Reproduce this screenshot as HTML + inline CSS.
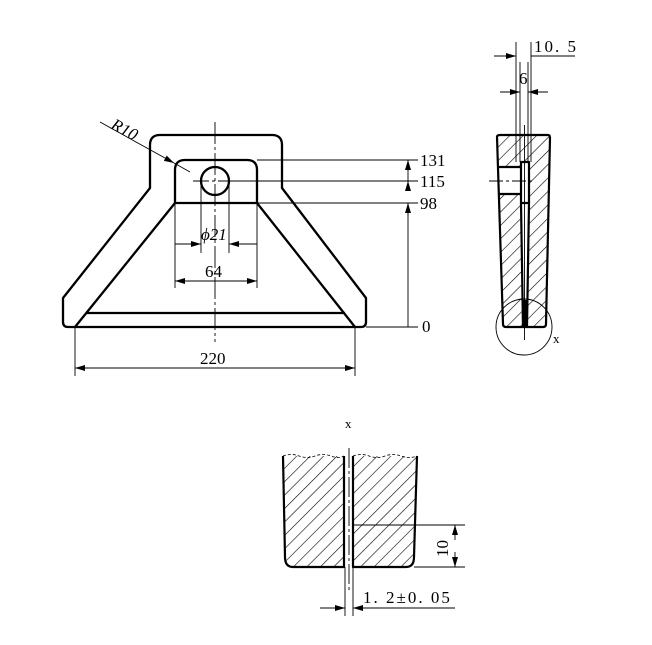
<!DOCTYPE html>
<html><head><meta charset="utf-8"><style>
html,body{margin:0;padding:0;background:#fff}
svg{display:block}
text{font-family:"Liberation Serif",serif;fill:#000}
</style></head><body>
<svg width="652" height="645" viewBox="0 0 652 645" xmlns="http://www.w3.org/2000/svg">
<defs>
<pattern id="h" patternUnits="userSpaceOnUse" width="9.5" height="9.5" patternTransform="rotate(45)">
<line x1="0" y1="0" x2="0" y2="9.5" stroke="#000" stroke-width="1.2"/>
</pattern>
<marker id="a" viewBox="0 0 10 6" refX="10" refY="3" markerWidth="10" markerHeight="6" orient="auto-start-reverse" markerUnits="userSpaceOnUse">
<path d="M0,0 L10,3 L0,6 z" fill="#000"/>
</marker>
</defs>

<!-- FRONT VIEW -->
<g fill="none" stroke="#000" stroke-width="2.3" stroke-linejoin="round">
<path d="M150,188 L150,145 Q150,135 160,135 L272,135 Q282,135 282,145 L282,188 L366,298 L366,322 Q366,327 361,327 L68,327 Q63,327 63,322 L63,298 Z"/>
<path d="M175,203 L175,170 Q175,160 185,160 L247,160 Q257,160 257,170 L257,203 Z"/>
<path d="M175,203 L75,327 M257,203 L355,327"/>
<line x1="86" y1="313" x2="345" y2="313"/>
<circle cx="215" cy="181" r="14"/>
</g>
<g stroke="#000" stroke-width="0.9" fill="none">
<line x1="215" y1="122" x2="215" y2="342" stroke-dasharray="22,3,3,3"/>
<line x1="193" y1="181" x2="237" y2="181" stroke-dasharray="16,3,3,3"/>
<line x1="257" y1="160" x2="418" y2="160"/>
<line x1="229" y1="181" x2="418" y2="181"/>
<line x1="257" y1="203" x2="418" y2="203"/>
<line x1="366" y1="327" x2="418" y2="327"/>
<line x1="408" y1="181" x2="408" y2="160" marker-end="url(#a)"/>
<line x1="408" y1="190" x2="408" y2="181" marker-end="url(#a)"/>
<line x1="408" y1="215" x2="408" y2="203" marker-end="url(#a)"/>
<line x1="408" y1="203" x2="408" y2="327"/>
<line x1="201" y1="181" x2="201" y2="253"/>
<line x1="229" y1="181" x2="229" y2="253"/>
<line x1="175" y1="203" x2="175" y2="288"/>
<line x1="257" y1="203" x2="257" y2="288"/>
<line x1="175" y1="244" x2="201" y2="244" marker-end="url(#a)"/>
<line x1="257" y1="244" x2="229" y2="244" marker-end="url(#a)"/>
<line x1="175" y1="281" x2="257" y2="281" marker-start="url(#a)" marker-end="url(#a)"/>
<line x1="75" y1="327" x2="75" y2="376"/>
<line x1="355" y1="327" x2="355" y2="376"/>
<line x1="75" y1="368" x2="355" y2="368" marker-start="url(#a)" marker-end="url(#a)"/>
<line x1="100" y1="122" x2="174" y2="163" marker-end="url(#a)"/>
<line x1="174" y1="163" x2="190" y2="172"/>
</g>
<g font-size="17">
<text x="420" y="166">131</text>
<text x="420" y="187">115</text>
<text x="420" y="209">98</text>
<text x="422" y="332">0</text>
<text x="201" y="240" font-style="italic">ϕ21</text>
<text x="205" y="277">64</text>
<text x="200" y="364">220</text>
<text x="0" y="0" font-style="italic" transform="translate(110,128) rotate(28)">R10</text>
</g>

<!-- SIDE VIEW -->
<path d="M497,137 Q497,135 500,135 L548,135 Q550,135 550,138 L546,324 Q546,327 543,327 L506,327 Q503,327 503,324 Z" fill="url(#h)" stroke="none"/>
<rect x="498" y="167" width="23" height="27" fill="#fff"/>
<path d="M521,162 L529,162 L529,203 L527,327 L523,327 L521,203 Z" fill="#fff"/>
<path d="M522.5,300 L527,300 L526.5,327 L523,327 Z" fill="#000"/>
<g fill="none" stroke="#000" stroke-width="2.2" stroke-linejoin="round">
<path d="M497,137 Q497,135 500,135 L548,135 Q550,135 550,138 L546,324 Q546,327 543,327 L506,327 Q503,327 503,324 Z"/>
<path d="M521,203 L521,162 L529,162 L529,203 Z"/>
<path d="M498,167 L521,167 M498,194 L521,194"/>
<path d="M521,203 L523,327 M529,203 L527,327"/>
</g>
<g stroke="#000" stroke-width="0.9" fill="none">
<line x1="489" y1="181" x2="535" y2="181" stroke-dasharray="14,3,3,3"/>
<line x1="524.5" y1="125" x2="524.5" y2="340"/>
<circle cx="524" cy="327" r="28"/>
<line x1="516" y1="42" x2="516" y2="162"/>
<line x1="531" y1="42" x2="531" y2="162"/>
<line x1="520" y1="62" x2="520" y2="162"/>
<line x1="528" y1="62" x2="528" y2="162"/>
<line x1="494" y1="56" x2="516" y2="56" marker-end="url(#a)"/>
<line x1="531" y1="56" x2="575" y2="56"/>
<line x1="500" y1="92" x2="520" y2="92" marker-end="url(#a)"/>
<line x1="548" y1="92" x2="528" y2="92" marker-end="url(#a)"/>
</g>
<g font-size="17">
<text x="534" y="52" letter-spacing="2">10. 5</text>
<text x="519" y="84">6</text>
<text x="553" y="343" font-size="13">x</text>
</g>

<!-- DETAIL X -->
<path d="M283,456 L344,456 L344,567 L293,567 Q285,567 285,557 Z" fill="url(#h)"/>
<path d="M353,456 L417,456 L414,557 Q414,567 406,567 L353,567 Z" fill="url(#h)"/>
<g fill="none" stroke="#000" stroke-width="2.2" stroke-linejoin="round">
<path d="M283,456 L285,557 Q285,567 293,567 L344,567 L344,456"/>
<path d="M353,456 L353,567 L406,567 Q414,567 414,557 L417,456"/>
</g>
<path d="M283,456 q8,-3 16,0 t16,0 t16,0 t13,0 M353,456 q8,-3 16,0 t16,0 t16,0 t16,0" fill="none" stroke="#000" stroke-width="0.8" stroke-dasharray="3,2"/>
<g stroke="#000" stroke-width="0.9" fill="none">
<line x1="349" y1="448" x2="349" y2="590" stroke-dasharray="20,3,3,3"/>
<line x1="353" y1="525" x2="465" y2="525"/>
<line x1="414" y1="567" x2="465" y2="567"/>
<line x1="455" y1="540" x2="455" y2="525" marker-end="url(#a)"/>
<line x1="455" y1="552" x2="455" y2="567" marker-end="url(#a)"/>
<line x1="345" y1="567" x2="345" y2="616"/>
<line x1="353" y1="567" x2="353" y2="616"/>
<line x1="320" y1="608" x2="345" y2="608" marker-end="url(#a)"/>
<line x1="378" y1="608" x2="353" y2="608" marker-end="url(#a)"/>
<line x1="353" y1="608" x2="455" y2="608"/>
</g>
<g font-size="17">
<text x="345" y="428" font-size="13">x</text>
<text x="0" y="0" transform="translate(448,557) rotate(-90)">10</text>
<text x="363" y="603" letter-spacing="2">1. 2±0. 05</text>
</g>
</svg>
</body></html>
